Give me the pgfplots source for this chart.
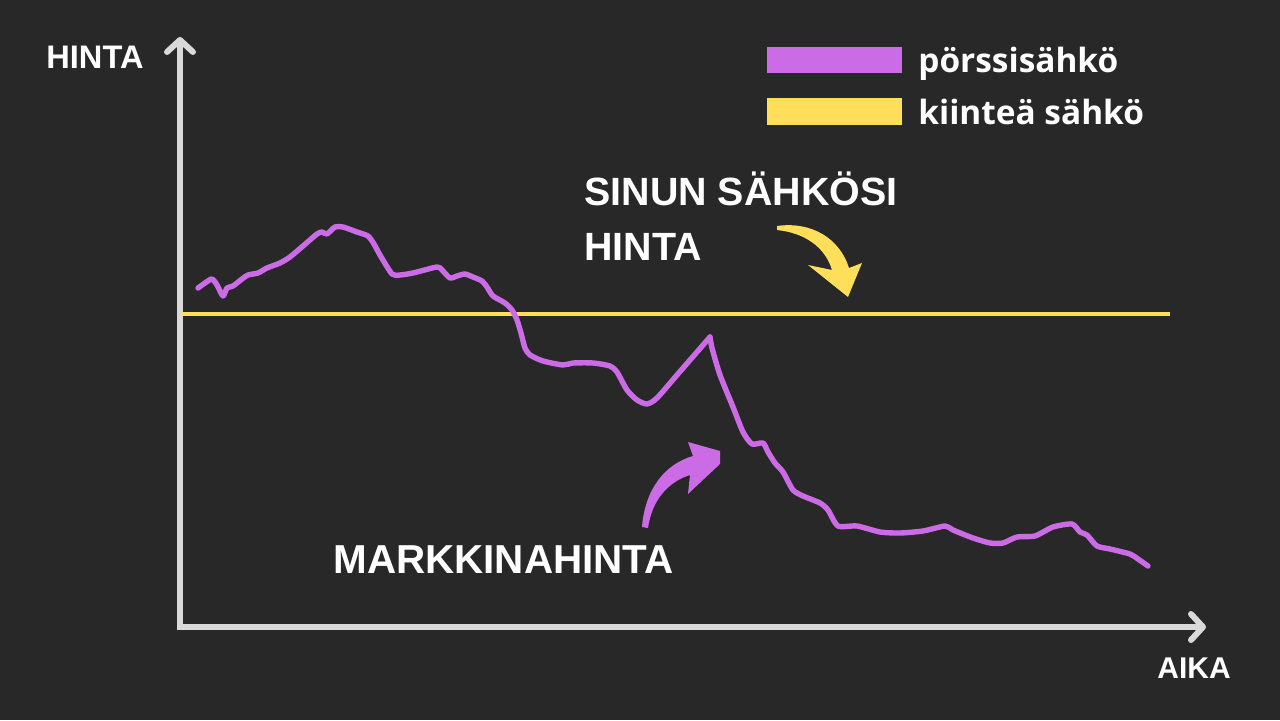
\documentclass[border=0pt]{standalone}
\usepackage{fontspec}
\setmainfont{Liberation Sans}
\newfontfamily\osans{Open Sans}
\usepackage{pgfplots}
\pgfplotsset{compat=1.18}
\usetikzlibrary{arrows.meta}
\definecolor{bg}{HTML}{282828}
\definecolor{axisgray}{HTML}{D9D9D9}
\definecolor{purp}{HTML}{CB6CE6}
\definecolor{yell}{HTML}{FFDE59}

\begin{document}
\begin{tikzpicture}
\fill[bg] (0,0) rectangle (640pt,360pt);
\begin{axis}[
    at={(90pt,46.5pt)}, anchor=south west,
    scale only axis, width=513pt, height=295pt,
    xmin=180, xmax=1206, ymin=0, ymax=590,
    axis lines=left,
    axis line style={draw=axisgray, line width=3pt, line cap=rect,
      -{Straight Barb[length=6pt,width=13pt,round]}},
    xtick=\empty, ytick=\empty,
    clip=false,
  ]
  % kiintea hinta
  \addplot[yell, line width=2pt] coordinates {(181,313) (1170,313)};
  % porssisahko (pixel x, 627 - pixel y), split at the sharp peak
  \addplot[purp, line width=2.7pt, line join=round, line cap=round, smooth, tension=0.4] coordinates {
    (198,339) (205,344) (212,348) (217,342) (223,331) (227,339) (233,341)
    (242,348) (248,352) (258,354) (267,359) (280,364) (290,370) (303,381)
    (317,393) (322,395) (327,393) (335,400) (343,400) (357,395) (368,391)
    (374,383) (380,372) (392,353) (400,352) (413,354) (437,360) (442,357)
    (450,349) (457,351) (465,353) (473,350) (482,346) (487,340) (493,331)
    (505,324) (512,317) (517,307) (521,294) (525,279) (530,272) (543,266)
    (563,262) (573,264) (593,264) (610,261) (617,255) (627,237) (637,227)
    (647,223) (657,229) (677,252) (697,275) (710,290)
  };
  \addplot[purp, line width=2.7pt, line join=round, line cap=round, smooth, tension=0.4] coordinates {
    (710,290) (712,279) (720,252)
    (733,220) (743,195) (752,183) (763,184) (768,175) (775,164) (783,155)
    (793,137) (803,131) (820,124) (828,117) (838,101) (857,101) (880,95)
    (900,94) (923,96) (945,101) (953,97) (973,89) (990,84) (1003,84)
    (1017,90) (1035,91) (1053,100) (1072,103) (1080,95) (1087,92) (1097,81)
    (1110,78) (1130,73) (1138,68) (1148,61)
  };
  % legend keys
  \addplot[draw=none, fill=purp] coordinates {(767,554) (902,554) (902,580) (767,580)} -- cycle;
  \addplot[draw=none, fill=yell] coordinates {(767,502) (902,502) (902,529) (767,529)} -- cycle;
  \node[anchor=base west, inner sep=0, text=white, font={\osans\bfseries\fontsize{16.7}{20}\selectfont}]
    at (axis cs:918,555) {pörssisähkö};
  \node[anchor=base west, inner sep=0, text=white, font={\osans\bfseries\fontsize{16.7}{20}\selectfont}]
    at (axis cs:918,503) {kiinteä sähkö};

  % axis titles
  \node[anchor=base west, inner sep=0, text=white, font={\bfseries\fontsize{16.3}{19}\selectfont}]
    at (axis cs:46,559) {HINTA};
  \node[anchor=base west, inner sep=0, text=white, font={\bfseries\fontsize{15}{18}\selectfont}]
    at (axis cs:1157,-51) {AIKA};

  % annotations
  \node[anchor=base west, inner sep=0, text=white, font={\bfseries\fontsize{19.7}{23}\selectfont}]
    at (axis cs:584,422) {SINUN SÄHKÖSI};
  \node[anchor=base west, inner sep=0, text=white, font={\bfseries\fontsize{19.7}{23}\selectfont}]
    at (axis cs:584,367) {HINTA};
  \node[anchor=base west, inner sep=0, text=white, font={\bfseries\fontsize{20.2}{24}\selectfont}]
    at (axis cs:333,54) {MARKKINAHINTA};

  \fill[yell] (axis cs:777,401) .. controls (axis cs:812,406) and (axis cs:840,388) .. (axis cs:849,359)
    -- (axis cs:862,364) -- (axis cs:848,330) -- (axis cs:808,362) -- (axis cs:832,357)
    .. controls (axis cs:825,380) and (axis cs:805,394) .. (axis cs:777,397) -- cycle;
  \fill[purp] (axis cs:642,100) .. controls (axis cs:645,138) and (axis cs:665,163) .. (axis cs:693,171)
    -- (axis cs:688,185) -- (axis cs:720,176) -- (axis cs:720,163) -- (axis cs:688,133)
    -- (axis cs:690,152) .. controls (axis cs:668,145) and (axis cs:652,127) .. (axis cs:648,99) -- cycle;
\end{axis}
\end{tikzpicture}
\end{document}
